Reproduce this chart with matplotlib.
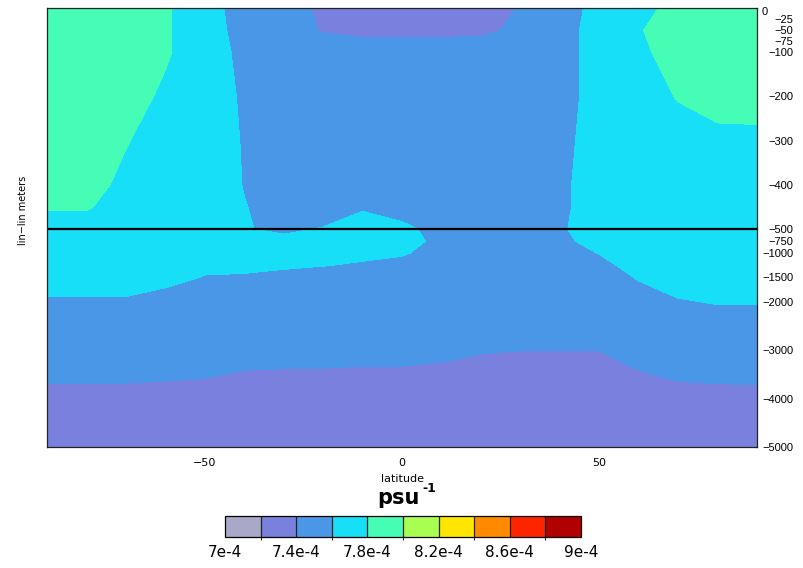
# thermal expansion section, latitude vs depth (split lin-lin depth axis)

import numpy as np
import matplotlib
matplotlib.use('Agg')
import matplotlib.pyplot as plt
from matplotlib.colors import ListedColormap, BoundaryNorm

# grid
lats = [-90, -80, -70, -60, -50, -40, -30, -20, -10, 0,
        10, 20, 30, 40, 50, 60, 70, 80, 90]
depths = [0, -50, -100, -200, -300, -400, -450, -500, -750, -1000,
          -1250, -1500, -1750, -2000, -2500, -3000, -3500, -4000, -4500, -5000]

# field values in units of 1e-4 psu^-1 (rows = depths, cols = lats)
alpha = [
    [7.95, 7.95, 7.92, 7.82, 7.70, 7.495, 7.47, 7.37, 7.32, 7.31, 7.31, 7.33, 7.41, 7.54, 7.64, 7.75, 7.85, 7.92, 7.93],
    [7.95, 7.95, 7.92, 7.82, 7.70, 7.52, 7.47, 7.39, 7.38, 7.38, 7.38, 7.38, 7.42, 7.55, 7.65, 7.79, 7.87, 7.90, 7.90],
    [7.95, 7.95, 7.91, 7.82, 7.70, 7.55, 7.50, 7.47, 7.44, 7.44, 7.44, 7.45, 7.48, 7.55, 7.65, 7.77, 7.86, 7.90, 7.90],
    [7.93, 7.92, 7.87, 7.77, 7.68, 7.58, 7.50, 7.50, 7.49, 7.48, 7.48, 7.49, 7.50, 7.55, 7.65, 7.72, 7.81, 7.86, 7.87],
    [7.93, 7.90, 7.81, 7.72, 7.68, 7.59, 7.50, 7.50, 7.50, 7.50, 7.50, 7.50, 7.50, 7.56, 7.66, 7.70, 7.73, 7.76, 7.76],
    [7.86, 7.86, 7.76, 7.70, 7.68, 7.595, 7.52, 7.52, 7.54, 7.53, 7.51, 7.50, 7.52, 7.57, 7.67, 7.70, 7.70, 7.70, 7.70],
    [7.81, 7.81, 7.75, 7.70, 7.68, 7.605, 7.55, 7.55, 7.59, 7.56, 7.53, 7.50, 7.53, 7.57, 7.67, 7.70, 7.70, 7.70, 7.70],
    [7.75, 7.75, 7.72, 7.70, 7.67, 7.605, 7.585, 7.605, 7.64, 7.62, 7.57, 7.52, 7.53, 7.58, 7.68, 7.70, 7.70, 7.70, 7.70],
    [7.72, 7.72, 7.70, 7.70, 7.68, 7.65, 7.62, 7.64, 7.66, 7.65, 7.565, 7.52, 7.53, 7.56, 7.66, 7.70, 7.70, 7.70, 7.70],
    [7.72, 7.72, 7.70, 7.69, 7.68, 7.67, 7.64, 7.635, 7.62, 7.61, 7.56, 7.53, 7.53, 7.55, 7.603, 7.66, 7.70, 7.70, 7.70],
    [7.72, 7.72, 7.70, 7.66, 7.62, 7.62, 7.61, 7.603, 7.59, 7.57, 7.54, 7.52, 7.52, 7.54, 7.57, 7.64, 7.70, 7.70, 7.70],
    [7.65, 7.65, 7.645, 7.63, 7.595, 7.59, 7.58, 7.56, 7.54, 7.52, 7.51, 7.50, 7.50, 7.50, 7.53, 7.61, 7.65, 7.67, 7.67],
    [7.62, 7.62, 7.62, 7.595, 7.56, 7.54, 7.52, 7.50, 7.50, 7.50, 7.50, 7.50, 7.50, 7.52, 7.54, 7.575, 7.625, 7.64, 7.64],
    [7.585, 7.585, 7.585, 7.57, 7.55, 7.52, 7.50, 7.50, 7.50, 7.50, 7.50, 7.50, 7.50, 7.50, 7.52, 7.55, 7.59, 7.608, 7.608],
    [7.54, 7.54, 7.53, 7.52, 7.52, 7.50, 7.50, 7.50, 7.50, 7.50, 7.50, 7.49, 7.48, 7.48, 7.48, 7.50, 7.54, 7.544, 7.544],
    [7.48, 7.48, 7.48, 7.48, 7.47, 7.45, 7.45, 7.445, 7.44, 7.44, 7.43, 7.41, 7.402, 7.402, 7.402, 7.45, 7.48, 7.48, 7.48],
    [7.42, 7.42, 7.42, 7.415, 7.41, 7.39, 7.385, 7.385, 7.38, 7.38, 7.37, 7.35, 7.34, 7.34, 7.34, 7.39, 7.42, 7.425, 7.43],
    [7.367, 7.367, 7.365, 7.36, 7.35, 7.34, 7.33, 7.33, 7.33, 7.33, 7.33, 7.32, 7.32, 7.32, 7.32, 7.33, 7.35, 7.36, 7.36],
    [7.32, 7.32, 7.32, 7.32, 7.32, 7.32, 7.32, 7.32, 7.32, 7.32, 7.32, 7.32, 7.32, 7.32, 7.32, 7.32, 7.32, 7.32, 7.32],
    [7.31, 7.31, 7.31, 7.31, 7.31, 7.31, 7.31, 7.31, 7.31, 7.31, 7.31, 7.31, 7.31, 7.31, 7.31, 7.31, 7.31, 7.31, 7.31],
]

levels = [7.0, 7.2, 7.4, 7.6, 7.8, 8.0, 8.2, 8.4, 8.6, 8.8, 9.0]
colors = ['#a8a8c8', '#7a80de', '#4a97e8', '#17dff8', '#46fdb5',
          '#a8ff52', '#ffe600', '#ff8a00', '#ff2400', '#b00000']

ytick_vals = [0, -25, -50, -75, -100, -200, -300, -400, -500,
              -750, -1000, -1500, -2000, -3000, -4000, -5000]
xtick_vals = [-50, 0, 50]
cbar_ticks = [7.0, 7.4, 7.8, 8.2, 8.6, 9.0]
cbar_labels = ['7e-4', '7.4e-4', '7.8e-4', '8.2e-4', '8.6e-4', '9e-4']

# split depth axis: 0..-500 gets ~ the same height as -500..-5000
BREAK = -500.0
SQUEEZE = 500.0 * 217 / (4500.0 * 220)


def fwd(z):
    z = np.asarray(z, dtype=float)
    return np.where(z >= BREAK, z, BREAK + (z - BREAK) * SQUEEZE)


def inv(t):
    t = np.asarray(t, dtype=float)
    return np.where(t >= BREAK, t, BREAK + (t - BREAK) / SQUEEZE)


W, H = 804, 568
fig = plt.figure(figsize=(W / 100, H / 100), dpi=100)
fig.patch.set_facecolor('white')

ax = fig.add_axes([47 / W, (H - 447) / H, 710 / W, 439 / H])
ax.set_yscale('function', functions=(fwd, inv))

cmap = ListedColormap(colors)
norm = BoundaryNorm(levels, cmap.N)
cs = ax.contourf(lats, depths, np.array(alpha), levels=levels, cmap=cmap, norm=norm)

ax.axhline(BREAK, color='black', lw=1.6)

ax.set_xlim(-90, 90)
ax.set_ylim(-5000, 0)

# x axis
ax.set_xticks(xtick_vals)
ax.set_xticklabels([str(v).replace('-', '\u2212') for v in xtick_vals])
ax.tick_params(axis='x', length=0, pad=8, labelsize=8)
ax.set_xlabel('latitude', fontsize=8, labelpad=4)

# y axis, labels on the right, right aligned
ax.set_yticks(ytick_vals)
ylabels = [('' if v == 0 else str(v).replace('-', '\u2212')) for v in ytick_vals]
ax.set_yticklabels(ylabels)
ax.tick_params(axis='y', left=False, right=False, labelleft=False, labelright=True,
               length=0, pad=26, labelsize=8, labelfontfamily='Liberation Sans')
for lbl in ax.get_yticklabels():
    lbl.set_horizontalalignment('right')
ax.text(1.007, 0.991, '0', transform=ax.transAxes, fontsize=8,
        family='Liberation Sans', ha='left', va='center')

fig.text(23 / W, 1 - 210 / H, 'lin\u2212lin meters', rotation=90,
         fontsize=7, ha='center', va='center')

for sp in ax.spines.values():
    sp.set_linewidth(0.9)
    sp.set_color('#222222')

# colour bar
cax = fig.add_axes([225 / W, (H - 537) / H, 356 / W, 21 / H])
cb = fig.colorbar(cs, cax=cax, orientation='horizontal', drawedges=True)
cb.set_ticks(cbar_ticks)
cb.set_ticklabels(cbar_labels)
cb.ax.tick_params(length=0, pad=6, labelsize=11)
cb.outline.set_linewidth(0.9)
cb.dividers.set_linewidth(0.9)
cb.dividers.set_color('#222222')

fig.text(377 / W, 1 - 498 / H, 'psu', fontsize=15, fontweight='bold',
         ha='left', va='center')
fig.text(422 / W, 1 - 489 / H, '-1', fontsize=9, fontweight='bold',
         ha='left', va='center')

fig.savefig('out.png', dpi=100)
